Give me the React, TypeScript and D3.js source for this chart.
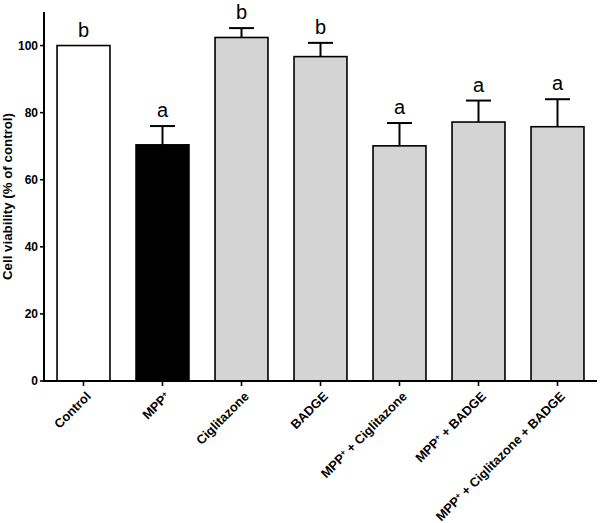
import React from "react";
import * as d3 from "d3";

const categories = [
  "Control",
  "MPP+",
  "Ciglitazone",
  "BADGE",
  "MPP+ + Ciglitazone",
  "MPP+ + BADGE",
  "MPP+ + Ciglitazone + BADGE",
];
const means = [100, 70.4, 102.4, 96.7, 70.1, 77.2, 75.8];
const errors = [0, 5.6, 2.8, 4.1, 6.8, 6.4, 8.2];
const letters = ["b", "a", "b", "b", "a", "a", "a"];
const fills = ["#ffffff", "#000000", "#d4d4d4", "#d4d4d4", "#d4d4d4", "#d4d4d4", "#d4d4d4"];
const yTicks = [0, 20, 40, 60, 80, 100];
const yTitle = "Cell viability (% of control)";

const W = 600;
const H = 523;
const left = 44;
const right = 597;
const top = 12;
const bottom = 381;
const FONT = "'Liberation Sans', Arial, sans-serif";

function renderLabel(label: string) {
  const parts = label.split("MPP+");
  const out: React.ReactNode[] = [];
  parts.forEach((p, i) => {
    if (i > 0) {
      out.push(<tspan key={"m" + i}>MPP</tspan>);
      out.push(
        <tspan key={"s" + i} baselineShift="super" fontSize={8}>
          +
        </tspan>
      );
    }
    if (p) out.push(<tspan key={"p" + i}>{p}</tspan>);
  });
  return out;
}

export default function App() {
  const x = d3
    .scaleBand<string>()
    .domain(categories)
    .range([left, right])
    .paddingInner(0.33)
    .paddingOuter(0.165);
  const y = d3.scaleLinear().domain([0, 110]).range([bottom, top]);
  const bw = x.bandwidth();
  const capW = 25;

  return (
    <svg
      width={W}
      height={H}
      style={{ position: "absolute", left: 0, top: 0, background: "#fff" }}
      fontFamily={FONT}
    >
      <rect x={0} y={0} width={W} height={H} fill="#fff" />
      {categories.map((c, i) => {
        const x0 = x(c)!;
        const cx = x0 + bw / 2;
        const yTop = y(means[i]);
        const yErr = y(means[i] + errors[i]);
        return (
          <g key={c}>
            <rect
              x={x0}
              y={yTop}
              width={bw}
              height={bottom - yTop}
              fill={fills[i]}
              stroke="#000"
              strokeWidth={1.6}
            />
            {errors[i] > 0 && (
              <g stroke="#000" strokeWidth={2}>
                <line x1={cx} x2={cx} y1={yTop} y2={yErr} />
                <line x1={cx - capW / 2} x2={cx + capW / 2} y1={yErr} y2={yErr} />
              </g>
            )}
            <text
              x={cx}
              y={yErr - 9}
              textAnchor="middle"
              fontSize={20}
              fill="#000"
            >
              {letters[i]}
            </text>
          </g>
        );
      })}
      {/* Y axis */}
      <line x1={left} x2={left} y1={top} y2={bottom} stroke="#000" strokeWidth={2} />
      {yTicks.map((t) => (
        <g key={t}>
          <line x1={left - 4} x2={left} y1={y(t)} y2={y(t)} stroke="#000" strokeWidth={1.6} />
          <text
            x={left - 6}
            y={y(t)}
            dy="0.36em"
            textAnchor="end"
            fontSize={12}
            fontWeight="bold"
          >
            {t}
          </text>
        </g>
      ))}
      <text
        transform={`translate(12, ${(top + bottom) / 2}) rotate(-90)`}
        textAnchor="middle"
        fontSize={13.3}
        fontWeight="bold"
      >
        {yTitle}
      </text>
      {/* X axis */}
      <line x1={left - 1} x2={right} y1={bottom} y2={bottom} stroke="#000" strokeWidth={2} />
      {categories.map((c) => {
        const cx = x(c)! + bw / 2;
        return (
          <g key={"t" + c}>
            <line x1={cx} x2={cx} y1={bottom} y2={bottom + 5} stroke="#000" strokeWidth={1.6} />
            <text
              transform={`translate(${cx + 5}, ${bottom + 13}) rotate(-45)`}
              textAnchor="end"
              dy="0.35em"
              fontSize={12.8}
              fontWeight="bold"
            >
              {renderLabel(c)}
            </text>
          </g>
        );
      })}
    </svg>
  );
}
